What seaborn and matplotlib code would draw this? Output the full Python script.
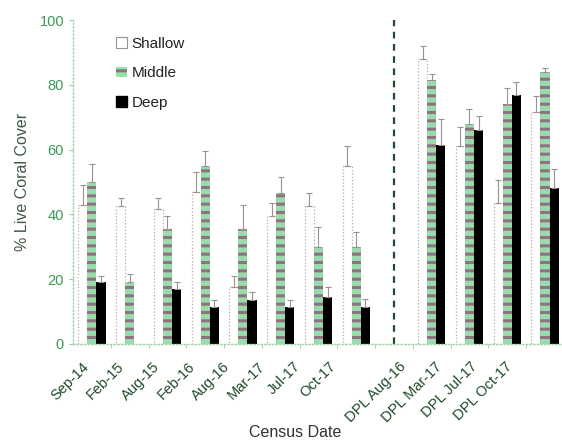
import numpy as np
import pandas as pd
import matplotlib
matplotlib.use("Agg")
import matplotlib.pyplot as plt
import seaborn as sns
from matplotlib.patches import Patch
from matplotlib.transforms import ScaledTranslation

# census dates (regular sites, then DPL sites)
dates = ["Sep-14", "Feb-15", "Aug-15", "Feb-16", "Aug-16", "Mar-17", "Jul-17", "Oct-17",
         "DPL Aug-16", "DPL Mar-17", "DPL Jul-17", "DPL Oct-17"]
depths = ["Shallow", "Middle", "Deep"]

# % live coral cover
shallow = [43, 42.5, 41.5, 47, 17.5, 39.5, 42.5, 55, 88, 61, 43.5, 71.5]
middle = [50, 19, 35.5, 55, 35.5, 46.5, 30, 30, 81.5, 68, 74, 84]
deep = [19, 0, 17, 11.5, 13.5, 11.5, 14.5, 11.5, 61.5, 66, 77, 48]

# upper error bars
shallow_err = [6, 2.5, 3.5, 6, 3.5, 4, 4, 6, 4, 6, 7, 5]
middle_err = [5.5, 2.5, 4, 4.5, 7.5, 5, 6, 4.5, 1.7, 4.5, 5, 1.3]
deep_err = [2, 0, 2, 2, 2.5, 2, 3, 2.5, 8, 4.5, 4, 6]

spacer = " "
order = dates[:8] + [spacer] + dates[8:]

rows = []
for d, vals in zip(depths, [shallow, middle, deep]):
    for date, v in zip(dates, vals):
        rows.append({"date": date, "depth": d, "cover": v})
    rows.append({"date": spacer, "depth": d, "cover": 0})
df = pd.DataFrame(rows)

errs = {
    "Shallow": shallow_err[:8] + [0] + shallow_err[8:],
    "Middle": middle_err[:8] + [0] + middle_err[8:],
    "Deep": deep_err[:8] + [0] + deep_err[8:],
}

sns.set_style("white")
plt.rcParams["font.family"] = ["Liberation Sans", "DejaVu Sans"]
plt.rcParams["hatch.linewidth"] = 2.2

fig = plt.figure(figsize=(5.62, 4.46), dpi=100)
ax = fig.add_axes([0.13, 0.229, 0.87, 0.726])

sns.barplot(data=df, x="date", y="cover", hue="depth", order=order, hue_order=depths,
            palette=["white", "#8fe6a8", "black"], width=0.72, errorbar=None,
            legend=False, ax=ax)

for name, cont in zip(depths, ax.containers):
    for bar, e in zip(cont, errs[name]):
        h = bar.get_height()
        if h <= 0:
            bar.set_visible(False)
            continue
        if name == "Shallow":
            bar.set_edgecolor("#b9a9ad")
            bar.set_linestyle(":")
            bar.set_linewidth(0.9)
        elif name == "Middle":
            bar.set_hatch("--")
            bar.set_edgecolor("#8c737c")
            bar.set_linewidth(0)
        else:
            bar.set_edgecolor("black")
            bar.set_linewidth(0)
        if e > 0:
            x = bar.get_x() + bar.get_width() / 2
            ax.errorbar(x, h, yerr=[[0], [e]], fmt="none", ecolor="#9d8f92",
                        elinewidth=0.8, capsize=2, capthick=0.8)

ax.axvline(8, color="#1d4d2a", linestyle=(0, (3, 2.5)), linewidth=1.6)

ax.set_xlim(-0.5, 12.45)
ax.set_ylim(0, 100)
ax.set_yticks([0, 20, 40, 60, 80, 100])
ax.set_xticks(range(len(order)))
ax.set_xticklabels(order, rotation=45, ha="right", rotation_mode="anchor",
                   fontsize=10.5, color="#1f4a28")
ax.tick_params(axis="y", labelsize=10.5, labelcolor="#3a9a55", length=3,
               color="#9cc8a4", left=True)
ax.tick_params(axis="x", length=0, pad=4)
ax.set_xticks(np.arange(0.5, 12.5, 1), minor=True)
ax.tick_params(axis="x", which="minor", length=3, color="#9cc8a4", bottom=True)

for s in ["top", "right"]:
    ax.spines[s].set_visible(False)
for s in ["left", "bottom"]:
    ax.spines[s].set_color("#9ed4a8")
    ax.spines[s].set_linestyle(":")
    ax.spines[s].set_linewidth(1.0)

ax.set_ylabel("% Live Coral Cover", fontsize=11.5, color="#3d5a45", labelpad=7)
ax.set_xlabel("Census Date", fontsize=11.5, color="#333333")
ax.xaxis.set_label_coords(0.454, -0.25)

handles = [
    Patch(facecolor="white", edgecolor="#a09090", linewidth=0.8),
    Patch(facecolor="#8fe6a8", edgecolor="#8c737c", hatch="--", linewidth=0),
    Patch(facecolor="black", edgecolor="black"),
]
ax.legend(handles, depths, loc="upper left", bbox_to_anchor=(0.06, 0.99),
          frameon=False, fontsize=11, handlelength=0.7, handleheight=0.7,
          handletextpad=0.3, labelspacing=1.0, labelcolor="#222222")

# labels in the original drift a little left of their bars
fig.canvas.draw()
for tick in ax.xaxis.get_major_ticks():
    i = int(round(tick.get_loc()))
    dx = (-10 - 2.5 * i) / 100
    lbl = tick.label1
    lbl.set_transform(lbl.get_transform() + ScaledTranslation(dx, -0.1, fig.dpi_scale_trans))

fig.savefig("out.png", dpi=100)
